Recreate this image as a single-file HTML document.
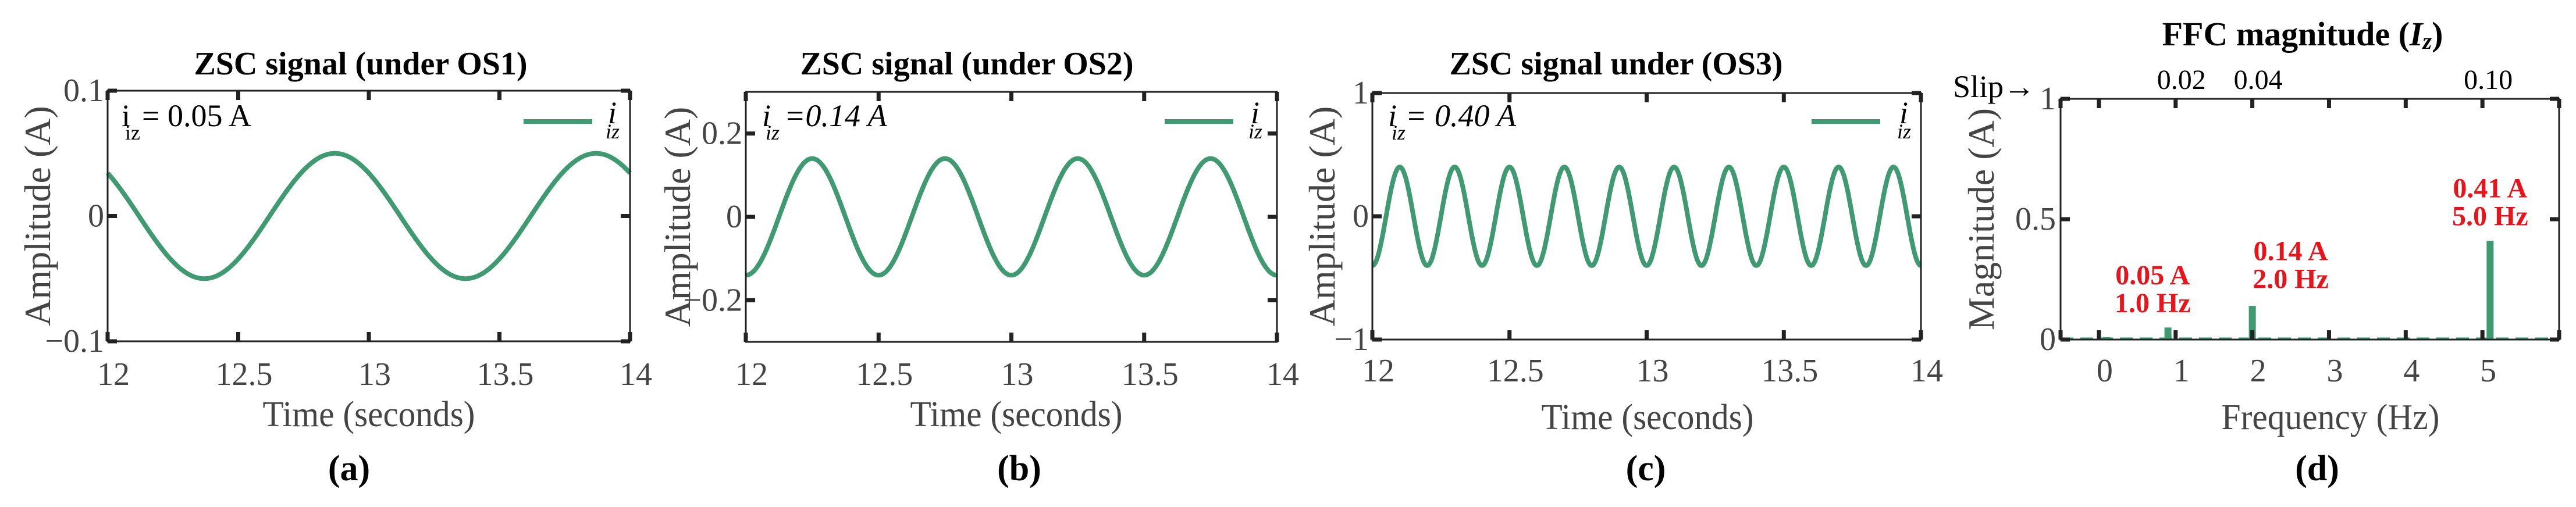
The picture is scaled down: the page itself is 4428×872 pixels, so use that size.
<!DOCTYPE html>
<html><head><meta charset="utf-8">
<style>
html,body{margin:0;padding:0;background:#fff;}
svg{display:block;}
text{font-family:"Liberation Serif",serif;}
</style></head>
<body>
<svg id="fig" width="4428" height="872" viewBox="0 0 4428 872" xmlns="http://www.w3.org/2000/svg"></svg>
<script>
// ---- data ----
const timeTicks = [12, 12.5, 13, 13.5, 14];
const timeTickLabels = ["12", "12.5", "13", "13.5", "14"];
const signalAmplitudes = [0.05, 0.14, 0.40];
const signalFreqs = [1, 2, 5];
const signalPeakTimes = [12.87, 12.25, 12.1];
const yTicksA = [-0.1, 0, 0.1];
const yTickLabelsA = ["\u22120.1", "0", "0.1"];
const yTicksB = [-0.2, 0, 0.2];
const yTickLabelsB = ["\u22120.2", "0", "0.2"];
const yTicksC = [-1, 0, 1];
const yTickLabelsC = ["\u22121", "0", "1"];
const freqTicks = [0, 1, 2, 3, 4, 5];
const freqTickLabels = ["0", "1", "2", "3", "4", "5"];
const slipTicks = [1, 2, 5];
const slipLabels = ["0.02", "0.04", "0.10"];
const magTicks = [0, 0.5, 1];
const magTickLabels = ["0", "0.5", "1"];
const barFreqs = [0.1, 0.9, 2.0, 5.1];
const barMags = [0.01, 0.05, 0.14, 0.41];
const annoAmps = ["0.05 A", "0.14 A", "0.41 A"];
const annoFreqs = ["1.0 Hz", "2.0 Hz", "5.0 Hz"];
const annoX = [0.7, 2.5, 5.1];
const annoMag = [0.23, 0.33, 0.59];

const NS = "http://www.w3.org/2000/svg";
const svg = document.getElementById("fig");
const GREEN = "#3f9a72", GRAY = "#444", DARK = "#222";

function mk(tag, attrs, parent, txt) {
  const e = document.createElementNS(NS, tag);
  for (const k in attrs) e.setAttribute(k, attrs[k]);
  if (txt !== undefined) e.textContent = txt;
  (parent || svg).appendChild(e);
  return e;
}

const panels = [
  {id:"a", x0:185, x1:1083, y0:156, y1:587, ymin:-0.1, ymax:0.1, yt:yTicksA, ytl:yTickLabelsA,
   title:"ZSC signal (under OS1)", titleX:620, annoIt:false, annoX:209, annoTxt:"= 0.05 A", annoTxtX:244,
   legX:900, legI:1045, ylabX:86, timeX:634, tickY:662, timeY:733, capX:600, cap:"(a)"},
  {id:"b", x0:1282, x1:2195, y0:158, y1:588, ymin:-0.3, ymax:0.3, yt:yTicksB, ytl:yTickLabelsB,
   title:"ZSC signal (under OS2)", titleX:1662, annoIt:true, annoX:1310, annoTxt:"=0.14 A", annoTxtX:1348,
   legX:2002, legI:2150, ylabX:1186, timeX:1747, tickY:662, timeY:733, capX:1752, cap:"(b)"},
  {id:"c", x0:2359, x1:3302, y0:160, y1:584, ymin:-1, ymax:1, yt:yTicksC, ytl:yTickLabelsC,
   title:"ZSC signal under (OS3)", titleX:2778, annoIt:true, annoX:2386, annoTxt:"= 0.40 A", annoTxtX:2416,
   legX:3114, legI:3265, ylabX:2294, timeX:2832, tickY:656, timeY:738, capX:2829, cap:"(c)"}
];

function ticksFrame(g, x0, x1, y0, y1, xs, ys) {
  mk("rect", {x:x0, y:y0, width:x1-x0, height:y1-y0, fill:"none", stroke:DARK, "stroke-width":3}, g);
  xs.forEach(x => {
    mk("line", {x1:x, x2:x, y1:y1, y2:y1-16, stroke:DARK, "stroke-width":7}, g);
    mk("line", {x1:x, x2:x, y1:y0, y2:y0+16, stroke:DARK, "stroke-width":7}, g);
  });
  ys.forEach(y => {
    mk("line", {x1:x0, x2:x0+16, y1:y, y2:y, stroke:DARK, "stroke-width":7}, g);
    mk("line", {x1:x1, x2:x1-16, y1:y, y2:y, stroke:DARK, "stroke-width":7}, g);
  });
}

panels.forEach((p, i) => {
  const g = mk("g", {});
  
  
  const sx = t => p.x0 + (t - 12) / 2 * (p.x1 - p.x0);
  const sy = v => p.y1 - (v - p.ymin) / (p.ymax - p.ymin) * (p.y1 - p.y0);

  const tt = mk("text", {x:p.titleX, y:128, "font-size":56, "font-weight":"bold", "text-anchor":"middle", fill:"#000"}, g, p.title);
  
  

  let d = "";
  for (let k = 0; k <= 800; k++) {
    const t = 12 + 2 * k / 800;
    const v = signalAmplitudes[i] * Math.cos(2 * Math.PI * signalFreqs[i] * (t - signalPeakTimes[i]));
    d += (k ? "L" : "M") + sx(t).toFixed(1) + "," + sy(v).toFixed(1);
  }
  const line = mk("path", {d:d, fill:"none", stroke:GREEN, "stroke-width":8, "stroke-linejoin":"round"}, g);
  
  

  ticksFrame(g, p.x0, p.x1, p.y0, p.y1, timeTicks.map(sx), p.yt.map(sy));

  timeTicks.forEach((t, j) => {
    const e = mk("text", {x:sx(t) + 10, y:p.tickY, "font-size":56, "text-anchor":"middle", fill:GRAY}, g, timeTickLabels[j]);
    
    
  });
  p.yt.forEach((v, j) => {
    const e = mk("text", {x:p.x0 - 6, y:sy(v) + 18, "font-size":56, "text-anchor":"end", fill:GRAY}, g, p.ytl[j]);
    
    
  });

  const yl = mk("text", {x:0, y:0, "font-size":64, "text-anchor":"middle", fill:GRAY, transform:"translate(" + p.ylabX + "," + ((p.y0 + p.y1) / 2) + ") rotate(-90)"}, g, "Amplitude (A)");
  
  
  const xl = mk("text", {x:p.timeX, y:p.timeY, "font-size":62, "text-anchor":"middle", fill:GRAY, textLength:365, lengthAdjust:"spacingAndGlyphs"}, g, "Time (seconds)");
  
  
  const cp = mk("text", {x:p.capX, y:826, "font-size":62, "font-weight":"bold", "text-anchor":"middle", fill:"#000"}, g, p.cap);
  
  

  const an = mk("g", {}, g);
  
  
  const st = p.annoIt ? "italic" : "normal";
  mk("text", {x:p.annoX, y:217, "font-size":54, "font-style":st, fill:"#000"}, an, "i");
  mk("text", {x:p.annoX + 6, y:240, "font-size":36, "font-style":st, fill:"#000"}, an, "iz");
  mk("text", {x:p.annoTxtX, y:217, "font-size":54, "font-style":st, fill:"#000"}, an, p.annoTxt);

  const lg = mk("g", {}, g);
  
  
  mk("line", {x1:p.legX, x2:p.legX + 118, y1:209, y2:209, stroke:GREEN, "stroke-width":8}, lg);
  mk("text", {x:p.legI, y:212, "font-size":54, "font-style":"italic", fill:"#000"}, lg, "i");
  mk("text", {x:p.legI - 4, y:238, "font-size":36, "font-style":"italic", fill:"#000"}, lg, "iz");
});

// ---- panel d ----
(function(){
  const g = mk("g", {});
  
  
  const x0 = 3542, x1 = 4399, y0 = 170, y1 = 584;
  const fmin = -0.5, fmax = 6.0;
  const sx = f => x0 + (f - fmin) / (fmax - fmin) * (x1 - x0);
  const sy = v => y1 - v * (y1 - y0);

  const tt = mk("text", {x:3958, y:78, "font-size":58, "font-weight":"bold", "text-anchor":"middle", fill:"#000"}, g);
  
  
  tt.appendChild(document.createTextNode("FFC magnitude ("));
  mk("tspan", {"font-style":"italic"}, tt, "I");
  mk("tspan", {"font-style":"italic", "font-size":40, dy:6}, tt, "z");
  mk("tspan", {dy:-6}, tt, ")");

  mk("line", {x1:x0, x2:x1, y1:sy(0) - 2, y2:sy(0) - 2, stroke:GREEN, "stroke-width":3, "stroke-dasharray":"22 12"}, g);
  barFreqs.forEach((f, j) => {
    const b = mk("rect", {x:sx(f) - 6, y:sy(barMags[j]), width:12, height:sy(0) - sy(barMags[j]), fill:GREEN}, g);
    
    
  });

  ticksFrame(g, x0, x1, y0, y1, freqTicks.map(sx).concat([x0, x1]), magTicks.map(sy));

  freqTicks.forEach((f, j) => {
    const e = mk("text", {x:sx(f) + 10, y:656, "font-size":56, "text-anchor":"middle", fill:GRAY}, g, freqTickLabels[j]);
    
    
  });
  magTicks.forEach((v, j) => {
    const e = mk("text", {x:x0 - 8, y:sy(v) + 18, "font-size":56, "text-anchor":"end", fill:GRAY}, g, magTickLabels[j]);
    
    
  });
  slipTicks.forEach((f, j) => {
    const e = mk("text", {x:sx(f) + 10, y:153, "font-size":48, "text-anchor":"middle", fill:"#000"}, g, slipLabels[j]);
    
    
  });
  const sl = mk("text", {x:3357, y:167, "font-size":54, fill:"#000"}, g, "Slip\u2192");
  
  

  annoAmps.forEach((a, j) => {
    const ga = mk("g", {}, g);
    
    
    const yy = sy(annoMag[j]);
    mk("text", {x:sx(annoX[j]), y:yy, "font-size":48, "font-weight":"bold", "text-anchor":"middle", fill:"#e8141c"}, ga, a);
    mk("text", {x:sx(annoX[j]), y:yy + 48, "font-size":48, "font-weight":"bold", "text-anchor":"middle", fill:"#e8141c"}, ga, annoFreqs[j]);
  });

  const yl = mk("text", {x:0, y:0, "font-size":64, "text-anchor":"middle", fill:GRAY, transform:"translate(3427," + ((y0 + y1) / 2) + ") rotate(-90)"}, g, "Magnitude (A)");
  
  
  const xl = mk("text", {x:4006, y:738, "font-size":62, "text-anchor":"middle", fill:GRAY, textLength:375, lengthAdjust:"spacingAndGlyphs"}, g, "Frequency (Hz)");
  
  
  const cp = mk("text", {x:3983, y:826, "font-size":62, "font-weight":"bold", "text-anchor":"middle", fill:"#000"}, g, "(d)");
  
  
})();
</script>
</body></html>
